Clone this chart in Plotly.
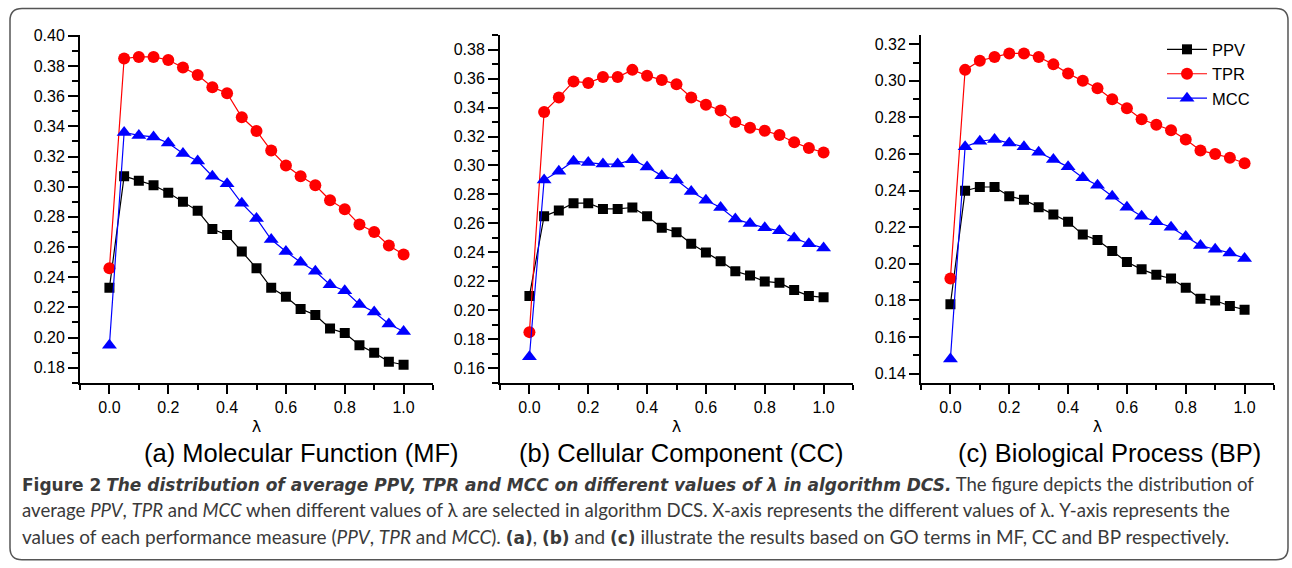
import plotly.graph_objects as go
from plotly.subplots import make_subplots

lam = [0.0, 0.05, 0.1, 0.15, 0.2, 0.25, 0.3, 0.35, 0.4, 0.45, 0.5,
       0.55, 0.6, 0.65, 0.7, 0.75, 0.8, 0.85, 0.9, 0.95, 1.0]

# (a) Molecular Function
mf_ppv = [0.233, 0.307, 0.304, 0.301, 0.296, 0.290, 0.284, 0.272, 0.268, 0.257, 0.246,
          0.233, 0.227, 0.219, 0.215, 0.206, 0.203, 0.195, 0.190, 0.184, 0.182]
mf_tpr = [0.246, 0.385, 0.386, 0.386, 0.384, 0.379, 0.374, 0.366, 0.362, 0.346, 0.337,
          0.324, 0.314, 0.307, 0.301, 0.291, 0.285, 0.275, 0.270, 0.261, 0.255]
mf_mcc = [0.195, 0.336, 0.334, 0.333, 0.329, 0.322, 0.317, 0.307, 0.302, 0.289, 0.279,
          0.265, 0.257, 0.250, 0.244, 0.235, 0.231, 0.222, 0.217, 0.209, 0.204]

# (b) Cellular Component
cc_ppv = [0.210, 0.265, 0.269, 0.274, 0.274, 0.270, 0.270, 0.271, 0.265, 0.257, 0.254,
          0.246, 0.240, 0.234, 0.227, 0.224, 0.220, 0.219, 0.214, 0.210, 0.209]
cc_tpr = [0.185, 0.337, 0.347, 0.358, 0.357, 0.361, 0.361, 0.366, 0.362, 0.359, 0.356,
          0.347, 0.342, 0.338, 0.330, 0.326, 0.324, 0.321, 0.316, 0.312, 0.309]
cc_mcc = [0.168, 0.290, 0.296, 0.303, 0.302, 0.301, 0.301, 0.304, 0.299, 0.293, 0.290,
          0.282, 0.276, 0.271, 0.263, 0.260, 0.257, 0.255, 0.250, 0.246, 0.243]

# (c) Biological Process
bp_ppv = [0.178, 0.240, 0.242, 0.242, 0.237, 0.235, 0.231, 0.227, 0.223, 0.216, 0.213,
          0.207, 0.201, 0.197, 0.194, 0.192, 0.187, 0.181, 0.180, 0.177, 0.175]
bp_tpr = [0.192, 0.306, 0.311, 0.313, 0.315, 0.315, 0.313, 0.309, 0.304, 0.300, 0.296,
          0.290, 0.285, 0.279, 0.276, 0.273, 0.268, 0.262, 0.260, 0.258, 0.255]
bp_mcc = [0.148, 0.264, 0.267, 0.268, 0.266, 0.264, 0.261, 0.257, 0.253, 0.247, 0.243,
          0.237, 0.231, 0.226, 0.223, 0.220, 0.215, 0.210, 0.208, 0.206, 0.203]

panels = [
    ('(a) Molecular Function (MF)', mf_ppv, mf_tpr, mf_mcc, [0.17, 0.4005]),
    ('(b) Cellular Component (CC)', cc_ppv, cc_tpr, cc_mcc, [0.15, 0.39]),
    ('(c) Biological Process (BP)', bp_ppv, bp_tpr, bp_mcc, [0.135, 0.325]),
]

# the photographed page comes out slightly squeezed vertically and moved
# down a little; positions below are wanted picture pixels, mapped back
W, H = 1292, 568
SY, TOP = 0.9866, 8


def fx(x):
    return x / W


def fy(y):
    return 1 - (y / SY - TOP) / H


x_domains = [[fx(80), fx(433)], [fx(500), fx(853)], [fx(921), fx(1274)]]
y_domain = [fy(383), fy(35)]
title_x = [301, 681, 1109]

fig = make_subplots(rows=1, cols=3)

styles = [
    ('PPV', 'black', 'square', 10),
    ('TPR', '#ff0000', 'circle', 12),
    ('MCC', '#0000ff', 'triangle-up', 13),
]

for i, (title, ppv, tpr, mcc, yr) in enumerate(panels):
    for (name, color, symbol, size), vals in zip(styles, [ppv, tpr, mcc]):
        fig.add_trace(go.Scatter(x=lam, y=vals,
                                 mode='lines+markers',
                                 name=name,
                                 showlegend=(i == 2),
                                 line=dict(color=color, width=1.2),
                                 marker=dict(color=color, symbol=symbol, size=size),
                                 ),
                      row=1, col=i + 1)

    axis_font = dict(family='Liberation Sans, Arial', size=16, color='black')
    fig.update_xaxes(domain=x_domains[i], range=[-0.1, 1.1],
                     tick0=0, dtick=0.2, tickformat='.1f',
                     ticks='outside', ticklen=9, tickwidth=2, tickcolor='black',
                     minor=dict(dtick=0.1, ticks='outside', ticklen=5, tickwidth=2, tickcolor='black'),
                     showline=True, linewidth=2, linecolor='black',
                     showgrid=False, zeroline=False, tickfont=axis_font,
                     title=dict(text='λ', font=dict(family='DejaVu Sans', size=16, color='black'), standoff=6),
                     row=1, col=i + 1)
    fig.update_yaxes(domain=y_domain, range=yr,
                     tick0=0, dtick=0.02, tickformat='.2f',
                     ticks='outside', ticklen=10, tickwidth=2, tickcolor='black',
                     minor=dict(dtick=0.01, ticks='outside', ticklen=6, tickwidth=2, tickcolor='black'),
                     showline=True, linewidth=2, linecolor='black',
                     showgrid=False, zeroline=False, tickfont=axis_font,
                     row=1, col=i + 1)

    fig.add_annotation(x=fx(title_x[i]), y=fy(453),
                       xref='paper', yref='paper', showarrow=False,
                       text=title, xanchor='center', yanchor='middle',
                       font=dict(family='Liberation Sans, Arial', size=25.5, color='black'))

# caption; the bold bits use a wider face, as in the original
B = '<span style="font-family:DejaVu Sans;font-size:17px"><b>%s</b></span>'
caption = [
    (B % 'Figure 2' + ' ' + B % '<i>The distribution of average PPV, TPR and MCC on different values of λ in algorithm DCS.</i>'
     + ' The figure depicts the distribution of', 18.6),
    ('average <i>PPV</i>, <i>TPR</i> and <i>MCC</i> when different values of λ are selected in algorithm DCS.'
     ' X-axis represents the different values of λ. Y-axis represents the', 18.6),
    ('values of each performance measure (<i>PPV</i>, <i>TPR</i> and <i>MCC</i>). ' + B % '(a)' + ', ' + B % '(b)'
     + ' and ' + B % '(c)' + ' illustrate the results based on GO terms in MF, CC and BP respectively.', 19),
]
for k, (line, size) in enumerate(caption):
    fig.add_annotation(x=fx(20), y=fy(484 + 26.5 * k),
                       xref='paper', yref='paper', showarrow=False,
                       text=line, xanchor='left', yanchor='middle', align='left',
                       font=dict(family='Lato', size=size, color='#3a3a3a'))


# rounded frame round the whole figure
def pt(x, y):
    return '%.5f,%.5f' % (fx(x), fy(y))


x0, x1, y0, y1, r = 10, 1288, 8.5, 560, 12
frame = ('M ' + pt(x0 + r, y0) + ' L ' + pt(x1 - r, y0) + ' Q ' + pt(x1, y0) + ' ' + pt(x1, y0 + r) +
         ' L ' + pt(x1, y1 - r) + ' Q ' + pt(x1, y1) + ' ' + pt(x1 - r, y1) +
         ' L ' + pt(x0 + r, y1) + ' Q ' + pt(x0, y1) + ' ' + pt(x0, y1 - r) +
         ' L ' + pt(x0, y0 + r) + ' Q ' + pt(x0, y0) + ' ' + pt(x0 + r, y0) + ' Z')
fig.add_shape(type='path', path=frame, xref='paper', yref='paper',
              line=dict(color='#555555', width=1.5))

fig.update_layout(width=W, height=H,
                  margin=dict(l=0, r=0, t=0, b=0),
                  paper_bgcolor='white', plot_bgcolor='white',
                  showlegend=True,
                  legend=dict(x=fx(1162), y=fy(32), xanchor='left', yanchor='top',
                              bgcolor='rgba(0,0,0,0)', tracegroupgap=0,
                              font=dict(family='Liberation Sans, Arial', size=16.5, color='black'),
                              itemwidth=40))

# drop the default page margin so the figure sits at the window's corner
fig.write_html("out.html",
               config={'displayModeBar': False},
               post_script="document.body.style.margin='0';"
                           "document.documentElement.style.overflow='hidden';")
